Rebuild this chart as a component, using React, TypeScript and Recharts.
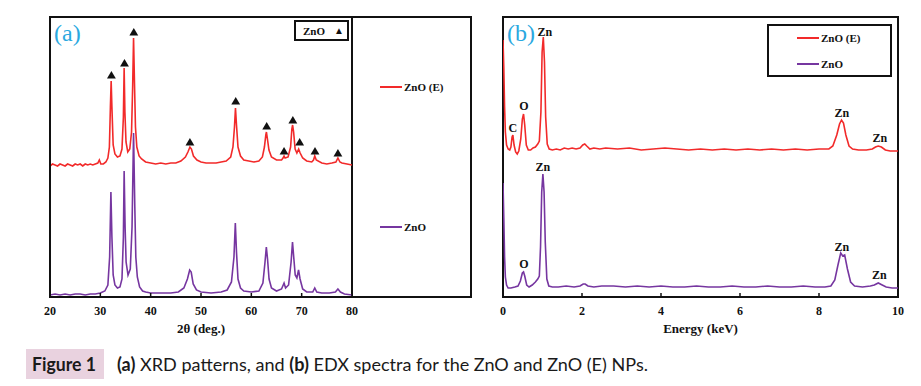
import {
  ComposedChart,
  Legend,
  Line,
  ReferenceArea,
  ReferenceDot,
  Scatter,
  XAxis,
  YAxis,
  ZAxis,
} from 'recharts';

type Pt = { x: number; y: number };

const SERIF = '"Liberation Serif", "Times New Roman", serif';
const RED = '#f22a2a';
const PURPLE = '#7636a0';
const INK = '#111';
const CYAN = '#2aa8df';

// XRD (a): intensity in arbitrary units, 2θ in degrees
const xrdTicks = [20, 30, 40, 50, 60, 70, 80];

const xrdZnOE: Pt[] = [
  { x: 20, y: 131 }, { x: 20.5, y: 133 }, { x: 21, y: 132 }, { x: 21.5, y: 131 },
  { x: 22, y: 133 }, { x: 22.5, y: 132 }, { x: 23, y: 131 }, { x: 23.5, y: 133 },
  { x: 24, y: 132 }, { x: 24.5, y: 131 }, { x: 25, y: 133 }, { x: 25.5, y: 132 },
  { x: 26, y: 133 }, { x: 26.5, y: 131 }, { x: 27, y: 133 }, { x: 27.5, y: 132 },
  { x: 28, y: 133 }, { x: 28.5, y: 132 }, { x: 29, y: 133 }, { x: 29.5, y: 134 },
  { x: 29.8, y: 137 }, { x: 30.1, y: 133 }, { x: 30.6, y: 133 }, { x: 31.1, y: 135 },
  { x: 31.5, y: 139 }, { x: 31.8, y: 150 }, { x: 32.0, y: 190 }, { x: 32.15, y: 216 },
  { x: 32.3, y: 190 }, { x: 32.55, y: 152 }, { x: 32.9, y: 143 }, { x: 33.4, y: 140 },
  { x: 33.9, y: 141 }, { x: 34.3, y: 148 }, { x: 34.58, y: 180 }, { x: 34.73, y: 229 },
  { x: 34.88, y: 185 }, { x: 35.1, y: 155 }, { x: 35.45, y: 145 }, { x: 35.85, y: 148 },
  { x: 36.2, y: 165 }, { x: 36.42, y: 210 }, { x: 36.6, y: 259 }, { x: 36.78, y: 215 },
  { x: 36.98, y: 170 }, { x: 37.25, y: 150 }, { x: 37.7, y: 141 }, { x: 38.2, y: 138 },
  { x: 39, y: 135 }, { x: 40, y: 134 }, { x: 41, y: 133 }, { x: 42, y: 134 },
  { x: 43, y: 133 }, { x: 44, y: 134 }, { x: 45, y: 134 }, { x: 46, y: 136 },
  { x: 46.9, y: 140 }, { x: 47.4, y: 145 }, { x: 47.8, y: 150 }, { x: 48.1, y: 148 },
  { x: 48.5, y: 141 }, { x: 49.2, y: 137 }, { x: 50, y: 135 }, { x: 51, y: 134 },
  { x: 52, y: 134 }, { x: 53, y: 134 }, { x: 54, y: 135 }, { x: 55, y: 136 },
  { x: 55.9, y: 140 }, { x: 56.35, y: 150 }, { x: 56.65, y: 170 }, { x: 56.85, y: 189 },
  { x: 57.05, y: 172 }, { x: 57.35, y: 150 }, { x: 57.85, y: 141 }, { x: 58.5, y: 137 },
  { x: 59.5, y: 136 }, { x: 60.5, y: 135 }, { x: 61.5, y: 136 }, { x: 62.2, y: 140 },
  { x: 62.6, y: 150 }, { x: 62.88, y: 162 }, { x: 63.0, y: 165 }, { x: 63.2, y: 158 },
  { x: 63.5, y: 147 }, { x: 64, y: 140 }, { x: 65, y: 137 }, { x: 66, y: 137 },
  { x: 66.3, y: 139 }, { x: 66.5, y: 141 }, { x: 66.7, y: 139 }, { x: 67.3, y: 140 },
  { x: 67.8, y: 150 }, { x: 68.05, y: 168 }, { x: 68.2, y: 172 }, { x: 68.4, y: 165 },
  { x: 68.7, y: 148 }, { x: 69.05, y: 144 }, { x: 69.4, y: 148 }, { x: 69.7, y: 144 },
  { x: 70.2, y: 139 }, { x: 71, y: 136 }, { x: 72, y: 135 }, { x: 72.35, y: 137 },
  { x: 72.6, y: 141 }, { x: 72.9, y: 137 }, { x: 74, y: 134 }, { x: 75, y: 133 },
  { x: 76, y: 134 }, { x: 76.8, y: 135 }, { x: 77.2, y: 139 }, { x: 77.6, y: 135 },
  { x: 78, y: 134 }, { x: 79, y: 133 }, { x: 80, y: 132 },
];

const xrdZnO: Pt[] = [
  { x: 20, y: 2 }, { x: 21, y: 3 }, { x: 22, y: 2 }, { x: 23, y: 3 }, { x: 24, y: 2 },
  { x: 25, y: 3 }, { x: 26, y: 3 }, { x: 27, y: 2 }, { x: 28, y: 3 }, { x: 29, y: 3 },
  { x: 30, y: 4 }, { x: 30.9, y: 6 }, { x: 31.5, y: 12 }, { x: 31.85, y: 40 },
  { x: 32.1, y: 105 }, { x: 32.3, y: 60 }, { x: 32.55, y: 22 }, { x: 32.9, y: 12 },
  { x: 33.4, y: 9 }, { x: 33.9, y: 10 }, { x: 34.3, y: 18 }, { x: 34.58, y: 60 },
  { x: 34.73, y: 126 }, { x: 34.92, y: 70 }, { x: 35.12, y: 35 }, { x: 35.5, y: 22 },
  { x: 35.95, y: 28 }, { x: 36.3, y: 70 }, { x: 36.6, y: 164 }, { x: 36.85, y: 90 },
  { x: 37.05, y: 40 }, { x: 37.35, y: 20 }, { x: 37.8, y: 10 }, { x: 38.4, y: 6 },
  { x: 39, y: 5 }, { x: 40, y: 4 }, { x: 42, y: 4 }, { x: 44, y: 4 }, { x: 45.5, y: 5 },
  { x: 46.6, y: 9 }, { x: 47.3, y: 18 }, { x: 47.75, y: 27 }, { x: 48.05, y: 25 },
  { x: 48.45, y: 13 }, { x: 49.1, y: 7 }, { x: 50, y: 5 }, { x: 52, y: 4 }, { x: 54, y: 5 },
  { x: 55.2, y: 7 }, { x: 56.05, y: 15 }, { x: 56.55, y: 40 }, { x: 56.82, y: 74 },
  { x: 57.05, y: 45 }, { x: 57.35, y: 18 }, { x: 57.85, y: 9 }, { x: 58.5, y: 6 },
  { x: 60, y: 5 }, { x: 61.5, y: 6 }, { x: 62.3, y: 14 }, { x: 62.72, y: 35 },
  { x: 62.98, y: 50 }, { x: 63.22, y: 38 }, { x: 63.52, y: 18 }, { x: 64, y: 9 },
  { x: 65, y: 6 }, { x: 66, y: 8 }, { x: 66.5, y: 14 }, { x: 66.8, y: 9 },
  { x: 67.4, y: 12 }, { x: 67.9, y: 35 }, { x: 68.18, y: 55 }, { x: 68.42, y: 40 },
  { x: 68.72, y: 22 }, { x: 69.05, y: 19 }, { x: 69.38, y: 27 }, { x: 69.68, y: 18 },
  { x: 70.2, y: 8 }, { x: 71, y: 5 }, { x: 72.2, y: 5 }, { x: 72.6, y: 9 },
  { x: 73.0, y: 5 }, { x: 74, y: 4 }, { x: 75.5, y: 4 }, { x: 76.7, y: 5 },
  { x: 77.2, y: 8 }, { x: 77.7, y: 5 }, { x: 78.5, y: 3 }, { x: 80, y: 2 },
];

// ▲ markers above the ZnO (E) reflections
const xrdMarkers: Pt[] = [
  { x: 32.2, y: 221 }, { x: 34.8, y: 233 }, { x: 36.65, y: 264 }, { x: 47.8, y: 154 },
  { x: 56.9, y: 195 }, { x: 63.05, y: 170 }, { x: 66.5, y: 145 }, { x: 68.25, y: 176 },
  { x: 69.6, y: 154 }, { x: 72.65, y: 145 }, { x: 77.2, y: 143 },
];

// EDX (b): counts (a.u.) vs energy in keV
const edxTicks = [0, 2, 4, 6, 8, 10];

const edxZnOE: Pt[] = [
  { x: 0, y: 257 }, { x: 0.02, y: 230 }, { x: 0.04, y: 190 }, { x: 0.06, y: 165 },
  { x: 0.09, y: 152 }, { x: 0.13, y: 148 }, { x: 0.17, y: 147 }, { x: 0.2, y: 150 },
  { x: 0.23, y: 160 }, { x: 0.25, y: 162 }, { x: 0.28, y: 152 }, { x: 0.32, y: 145 },
  { x: 0.36, y: 143 }, { x: 0.4, y: 146 }, { x: 0.45, y: 158 }, { x: 0.49, y: 178 },
  { x: 0.52, y: 183 }, { x: 0.55, y: 172 }, { x: 0.59, y: 152 }, { x: 0.64, y: 147 },
  { x: 0.7, y: 147 }, { x: 0.76, y: 149 }, { x: 0.82, y: 150 }, { x: 0.88, y: 153 },
  { x: 0.92, y: 156 }, { x: 0.96, y: 185 }, { x: 0.99, y: 245 }, { x: 1.02, y: 260 },
  { x: 1.05, y: 235 }, { x: 1.08, y: 180 }, { x: 1.12, y: 153 }, { x: 1.17, y: 148 },
  { x: 1.25, y: 147 }, { x: 1.35, y: 148 }, { x: 1.45, y: 147 }, { x: 1.55, y: 149 },
  { x: 1.65, y: 148 }, { x: 1.75, y: 149 }, { x: 1.85, y: 148 }, { x: 1.95, y: 149 },
  { x: 2.02, y: 152 }, { x: 2.07, y: 153 }, { x: 2.12, y: 151 }, { x: 2.2, y: 148 },
  { x: 2.3, y: 149 }, { x: 2.45, y: 148 }, { x: 2.6, y: 149 }, { x: 2.9, y: 148 },
  { x: 3.2, y: 149 }, { x: 3.5, y: 147 }, { x: 3.8, y: 148 }, { x: 4.1, y: 149 },
  { x: 4.4, y: 148 }, { x: 4.7, y: 147 }, { x: 5.0, y: 148 }, { x: 5.3, y: 147 },
  { x: 5.6, y: 148 }, { x: 5.9, y: 147 }, { x: 6.2, y: 148 }, { x: 6.5, y: 147 },
  { x: 6.8, y: 148 }, { x: 7.1, y: 147 }, { x: 7.4, y: 148 }, { x: 7.7, y: 147 },
  { x: 8.0, y: 148 }, { x: 8.25, y: 148 }, { x: 8.35, y: 151 }, { x: 8.45, y: 162 },
  { x: 8.52, y: 173 }, { x: 8.57, y: 177 }, { x: 8.62, y: 174 }, { x: 8.68, y: 162 },
  { x: 8.76, y: 151 }, { x: 8.85, y: 148 }, { x: 9.0, y: 147 }, { x: 9.2, y: 147 },
  { x: 9.35, y: 148 }, { x: 9.43, y: 150 }, { x: 9.5, y: 151 }, { x: 9.58, y: 150 },
  { x: 9.68, y: 147 }, { x: 9.8, y: 146 }, { x: 10, y: 146 },
];

const edxZnO: Pt[] = [
  { x: 0, y: 114 }, { x: 0.02, y: 80 }, { x: 0.04, y: 40 }, { x: 0.06, y: 20 },
  { x: 0.09, y: 12 }, { x: 0.13, y: 9 }, { x: 0.2, y: 9 }, { x: 0.3, y: 10 },
  { x: 0.38, y: 11 }, { x: 0.44, y: 16 }, { x: 0.49, y: 24 }, { x: 0.52, y: 25 },
  { x: 0.55, y: 21 }, { x: 0.6, y: 12 }, { x: 0.66, y: 10 }, { x: 0.74, y: 12 },
  { x: 0.82, y: 15 }, { x: 0.88, y: 18 }, { x: 0.92, y: 21 }, { x: 0.95, y: 50 },
  { x: 0.98, y: 105 }, { x: 1.01, y: 123 }, { x: 1.04, y: 105 }, { x: 1.07, y: 55 },
  { x: 1.11, y: 18 }, { x: 1.16, y: 11 }, { x: 1.25, y: 10 }, { x: 1.4, y: 10 },
  { x: 1.6, y: 11 }, { x: 1.8, y: 10 }, { x: 1.95, y: 11 }, { x: 2.03, y: 13 },
  { x: 2.08, y: 13 }, { x: 2.15, y: 11 }, { x: 2.3, y: 10 }, { x: 2.5, y: 11 },
  { x: 2.8, y: 11 }, { x: 3.1, y: 10 }, { x: 3.4, y: 11 }, { x: 3.7, y: 10 },
  { x: 4.0, y: 11 }, { x: 4.3, y: 10 }, { x: 4.6, y: 10 }, { x: 4.9, y: 11 },
  { x: 5.2, y: 10 }, { x: 5.5, y: 10 }, { x: 5.8, y: 11 }, { x: 6.1, y: 10 },
  { x: 6.4, y: 10 }, { x: 6.7, y: 11 }, { x: 7.0, y: 10 }, { x: 7.3, y: 10 },
  { x: 7.6, y: 11 }, { x: 7.9, y: 10 }, { x: 8.15, y: 10 }, { x: 8.3, y: 11 },
  { x: 8.4, y: 17 }, { x: 8.48, y: 32 }, { x: 8.55, y: 44 }, { x: 8.6, y: 41 },
  { x: 8.65, y: 42 }, { x: 8.72, y: 28 }, { x: 8.8, y: 15 }, { x: 8.9, y: 11 },
  { x: 9.1, y: 10 }, { x: 9.3, y: 11 }, { x: 9.4, y: 12 }, { x: 9.5, y: 14 },
  { x: 9.6, y: 12 }, { x: 9.7, y: 10 }, { x: 9.85, y: 9 }, { x: 10, y: 9 },
];

const edxPeakLabels = [
  { x: 1.06, y: 265, text: 'Zn' },
  { x: 0.53, y: 191, text: 'O' },
  { x: 0.25, y: 169, text: 'C' },
  { x: 8.58, y: 184, text: 'Zn' },
  { x: 9.54, y: 159, text: 'Zn' },
  { x: 1.01, y: 130, text: 'Zn' },
  { x: 0.53, y: 33, text: 'O' },
  { x: 8.58, y: 50, text: 'Zn' },
  { x: 9.53, y: 22, text: 'Zn' },
];

const seriesNames = ['ZnO (E)', 'ZnO'];

const tickStyle = { fill: INK, fontSize: 12, fontWeight: 700, fontFamily: SERIF };
const titleStyle = { fill: INK, fontSize: 13, fontWeight: 700, fontFamily: SERIF };

function LegendRow({ name, color }: { name: string; color: string }) {
  return (
    <div style={{ display: 'flex', alignItems: 'center', height: 14 }}>
      <span style={{ width: 22, height: 0, borderTop: `2px solid ${color}`, marginRight: 2 }} />
      <span>{name}</span>
    </div>
  );
}

function XrdLegend() {
  const common: React.CSSProperties = {
    position: 'absolute',
    fontFamily: SERIF,
    fontWeight: 700,
    fontSize: 11,
    color: INK,
  };
  return (
    <div style={{ position: 'relative', width: 480, height: 340 }}>
      <div style={{ ...common, left: 380, top: 80 }}>
        <LegendRow name={seriesNames[0]} color={RED} />
      </div>
      <div style={{ ...common, left: 380, top: 220 }}>
        <LegendRow name={seriesNames[1]} color={PURPLE} />
      </div>
      <div
        style={{
          ...common,
          left: 294,
          top: 20,
          width: 55,
          height: 21,
          boxSizing: 'border-box',
          border: `2px solid ${INK}`,
          display: 'flex',
          alignItems: 'center',
          paddingLeft: 7,
          background: '#fff',
        }}
      >
        ZnO<span style={{ marginLeft: 9, fontSize: 10 }}>▲</span>
      </div>
    </div>
  );
}

function EdxLegend() {
  return (
    <div
      style={{
        width: 125,
        height: 53,
        boxSizing: 'border-box',
        border: `2px solid ${INK}`,
        background: '#fff',
        fontFamily: SERIF,
        fontWeight: 700,
        fontSize: 11,
        color: INK,
        paddingLeft: 28,
        paddingTop: 5,
      }}
    >
      <LegendRow name={seriesNames[0]} color={RED} />
      <div style={{ height: 12 }} />
      <LegendRow name={seriesNames[1]} color={PURPLE} />
    </div>
  );
}

function XrdPanel() {
  return (
    <div style={{ position: 'absolute', left: 0, top: 0 }}>
      <ComposedChart width={480} height={340} margin={{ top: 17, right: 128, left: 50, bottom: 3 }}>
        <XAxis
          dataKey="x"
          type="number"
          domain={[20, 80]}
          ticks={xrdTicks}
          allowDataOverflow
          height={40}
          tickSize={-4}
          tickMargin={13}
          axisLine={{ stroke: INK, strokeWidth: 2 }}
          tickLine={{ stroke: INK, strokeWidth: 1.5 }}
          tick={tickStyle}
          label={{ value: '2θ (deg.)', position: 'insideBottom', offset: 4, ...titleStyle }}
        />
        <YAxis
          dataKey="y"
          type="number"
          domain={[0, 280]}
          allowDataOverflow
          width={0}
          axisLine={false}
          tickLine={false}
          tick={false}
          label={{
            value: 'Intensity (a.u.)',
            angle: -90,
            position: 'left',
            offset: 14,
            style: { textAnchor: 'middle' },
            ...titleStyle,
          }}
        />
        <ZAxis range={[34, 34]} />
        <ReferenceArea x1={20} x2={80} y1={0} y2={280} fill="none" stroke={INK} strokeWidth={2} ifOverflow="visible" />
        <Line data={xrdZnO} dataKey="y" name="ZnO" stroke={PURPLE} strokeWidth={1.6} dot={false} type="linear" isAnimationActive={false} />
        <Line data={xrdZnOE} dataKey="y" name="ZnO (E)" stroke={RED} strokeWidth={1.6} dot={false} type="linear" isAnimationActive={false} />
        <Scatter data={xrdMarkers} dataKey="y" shape="triangle" fill={INK} isAnimationActive={false} />
        <Legend
          layout="horizontal"
          verticalAlign="middle"
          align="center"
          content={<XrdLegend />}
          wrapperStyle={{ left: 0, top: 0, width: 480, height: 340, pointerEvents: 'none' }}
        />
      </ComposedChart>
      <div
        style={{
          position: 'absolute',
          left: 49,
          top: 16,
          width: 423,
          height: 282,
          boxSizing: 'border-box',
          border: `2px solid ${INK}`,
          pointerEvents: 'none',
        }}
      />
      <div style={{ position: 'absolute', left: 54, top: 19, fontFamily: SERIF, fontSize: 24, lineHeight: '28px', color: CYAN }}>
        (a)
      </div>
    </div>
  );
}

function EdxPanel() {
  return (
    <div style={{ position: 'absolute', left: 460, top: 0 }}>
      <ComposedChart width={461} height={340} margin={{ top: 17, right: 23, left: 43, bottom: 3 }}>
        <XAxis
          dataKey="x"
          type="number"
          domain={[0, 10]}
          ticks={edxTicks}
          allowDataOverflow
          height={40}
          tickSize={-4}
          tickMargin={13}
          axisLine={{ stroke: INK, strokeWidth: 2 }}
          tickLine={{ stroke: INK, strokeWidth: 1.5 }}
          tick={tickStyle}
          label={{ value: 'Energy (keV)', position: 'insideBottom', offset: 4, ...titleStyle }}
        />
        <YAxis
          dataKey="y"
          type="number"
          domain={[0, 280]}
          allowDataOverflow
          width={0}
          axisLine={false}
          tickLine={false}
          tick={false}
          label={{
            value: 'Intensity (a.u.)',
            angle: -90,
            position: 'left',
            offset: 16,
            dy: -6,
            style: { textAnchor: 'middle' },
            ...titleStyle,
          }}
        />
        <ReferenceArea x1={0} x2={10} y1={0} y2={280} fill="none" stroke={INK} strokeWidth={2} ifOverflow="visible" />
        <Line data={edxZnO} dataKey="y" name="ZnO" stroke={PURPLE} strokeWidth={1.6} dot={false} type="linear" isAnimationActive={false} />
        <Line data={edxZnOE} dataKey="y" name="ZnO (E)" stroke={RED} strokeWidth={1.6} dot={false} type="linear" isAnimationActive={false} />
        {edxPeakLabels.map((p, i) => (
          <ReferenceDot
            key={i}
            x={p.x}
            y={p.y}
            r={0}
            fill="none"
            stroke="none"
            ifOverflow="visible"
            label={{ value: p.text, position: 'center', fill: INK, fontSize: 12, fontWeight: 700, fontFamily: SERIF }}
          />
        ))}
        <Legend
          layout="horizontal"
          verticalAlign="middle"
          align="center"
          content={<EdxLegend />}
          wrapperStyle={{ left: 307, top: 24, width: 125, height: 53 }}
        />
      </ComposedChart>
      <div style={{ position: 'absolute', left: 47, top: 19, fontFamily: SERIF, fontSize: 24, lineHeight: '28px', color: CYAN }}>
        (b)
      </div>
    </div>
  );
}

export default function App() {
  return (
    <div style={{ position: 'absolute', left: 0, top: 0, width: 921, height: 386, background: '#fff', overflow: 'hidden' }}>
      <XrdPanel />
      <EdxPanel />
      <div
        style={{
          position: 'absolute',
          left: 26,
          top: 349,
          width: 78,
          height: 30,
          background: '#e9d2df',
        }}
      />
      <svg width={921} height={50} style={{ position: 'absolute', left: 0, top: 340 }}>
        <text x={32} y={31} fontFamily="Lato, 'Open Sans', sans-serif" fontSize={18} fontWeight={700} fill="#1a1a1a" textLength={64} lengthAdjust="spacingAndGlyphs">
          Figure 1
        </text>
        <text x={117} y={31} fontFamily="Lato, 'Open Sans', sans-serif" fontSize={18} fill="#1a1a1a" textLength={531} lengthAdjust="spacingAndGlyphs">
          <tspan fontWeight={700}>(a)</tspan> XRD patterns, and <tspan fontWeight={700}>(b)</tspan> EDX spectra for the ZnO and ZnO (E) NPs.
        </text>
      </svg>
    </div>
  );
}
